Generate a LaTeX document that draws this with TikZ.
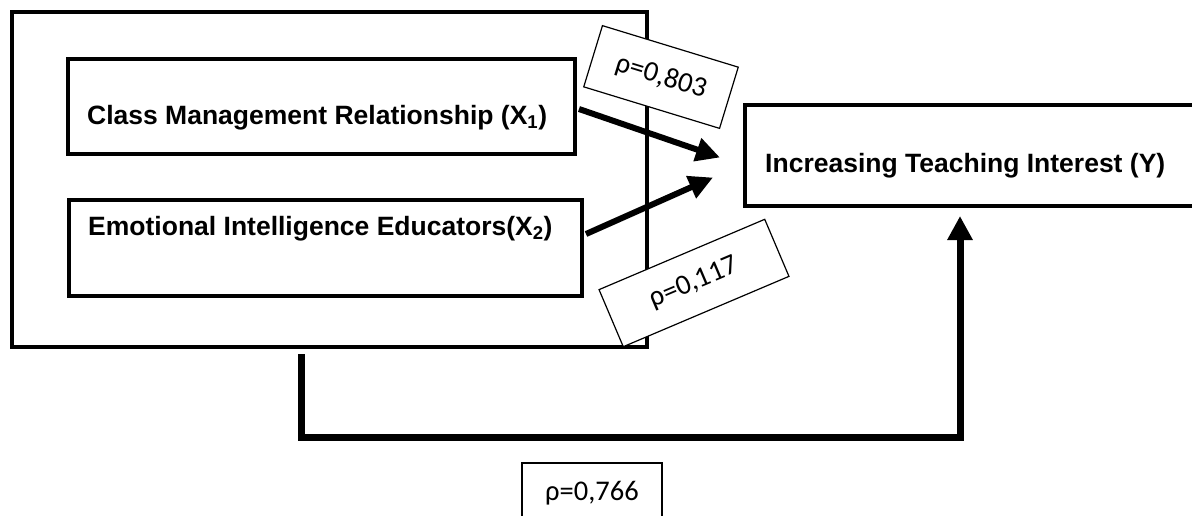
\documentclass[tikz,border=0pt]{standalone}
\usepackage{fontspec}
\setmainfont{Liberation Sans}
\newfontfamily\rhofont{Carlito}
\usetikzlibrary{arrows.meta}
\tikzset{
  x=1pt, y=-1pt,
  bigbox/.style={draw=black, line width=4pt, fill=white, inner sep=0pt, anchor=north west},
  boxtext/.style={inner sep=0pt, anchor=base west, font=\fontsize{26.5}{30}\selectfont\bfseries},
  rholbl/.style={draw=black, line width=1.2pt, fill=white, inner sep=0pt, font=\rhofont\fontsize{28.5}{32}\selectfont},
  conn/.style={line width=6pt, -{Triangle[length=24pt,width=23pt]}},
  loopconn/.style={line width=7pt, line join=miter, -{Triangle[length=24pt,width=24pt]}}
}
\begin{document}
\begin{tikzpicture}
\clip (0,0) rectangle (1192,515);
\fill[white] (0,0) rectangle (1192,515);
% boxes
\node[bigbox, minimum width=635pt, minimum height=335pt] (outer) at (10,10) {};
\node[bigbox, minimum width=507pt, minimum height=95pt] (x1) at (66,57) {};
\node[bigbox, minimum width=513pt, minimum height=96pt] (x2) at (67,198) {};
\node[bigbox, minimum width=470pt, minimum height=101pt] (y) at (743,103) {};
% texts
\node[boxtext] (t1) at (87,124) {Class Management Relationship (X\textsubscript{1})};
\node[boxtext] (t2) at (88,235) {Emotional Intelligence Educators(X\textsubscript{2})};
\node[boxtext] (ty) at (765,172) {Increasing Teaching Interest (Y)};
% connectors
\draw[conn] ([xshift=2pt,yshift=-2.5pt]x1.east) -- ([xshift=-23pt,yshift=-2pt]y.west);
\draw[conn] ([xshift=2pt,yshift=14pt]x2.east) -- ([xshift=-30pt,yshift=-22pt]y.west);
\coordinate (turn) at (960,437);
\draw[loopconn] ([xshift=-28.5pt,yshift=-5pt]outer.south) |- (turn) -- ([yshift=-8pt]turn |- y.south);
% coefficient labels
\node[rholbl, minimum width=142pt, minimum height=64pt, rotate=-17] (r1) at (661,77) {ρ=0,803};
\node[rholbl, minimum width=180pt, minimum height=62pt, rotate=23] (r2) at (694,283) {ρ=0,117};
\node[rholbl, minimum width=140pt, minimum height=60pt] (r3) at (592,493) {ρ=0,766};
\end{tikzpicture}
\end{document}
